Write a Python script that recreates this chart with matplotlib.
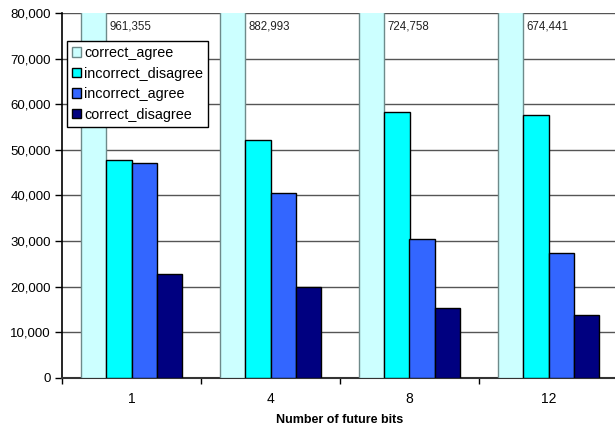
import matplotlib
matplotlib.use("Agg")
import matplotlib.pyplot as plt
import numpy as np

plt.rcParams['font.family'] = ['Liberation Sans', 'DejaVu Sans']

categories = ["1", "4", "8", "12"]
series_names = ["correct_agree", "incorrect_disagree", "incorrect_agree", "correct_disagree"]
correct_agree = [961355, 882993, 724758, 674441]
incorrect_disagree = [47700, 52200, 58200, 57600]
incorrect_agree = [47100, 40500, 30500, 27300]
correct_disagree = [22800, 20000, 15400, 13800]
y_ticks = [0, 10000, 20000, 30000, 40000, 50000, 60000, 70000, 80000]

colors = ["#CCFFFF", "#00FFFF", "#3366FF", "#000080"]
edges = ["#6E8A8A", "#000000", "#000000", "#000000"]

fig = plt.figure(figsize=(6.15, 4.25), dpi=100)
ax = fig.add_axes([62 / 615, 47 / 425, 556 / 615, 365 / 425])

x = np.arange(len(categories))
width = 0.18
all_series = [correct_agree, incorrect_disagree, incorrect_agree, correct_disagree]
for i, (name, vals) in enumerate(zip(series_names, all_series)):
    offs = (i - 1.5) * width
    ax.bar(x + offs, vals, width, color=colors[i], edgecolor=edges[i],
           linewidth=1.0, label=name, zorder=3)

ymax = 80000
ax.set_ylim(0, ymax)
ax.set_xlim(-0.5, len(categories) - 0.5)

# values of the clipped tall bars, written beside them
for xi, v in zip(x, correct_agree):
    ax.text(xi - width + 0.02, 77000, f"{v:,}", fontsize=8.3, ha="left", va="center",
            color="#222222", zorder=4)

ax.set_yticks(y_ticks)
ax.set_yticklabels([f"{t:,}" for t in y_ticks], fontsize=9.5)
ax.yaxis.grid(True, color="#555555", linewidth=1.0, zorder=0)
ax.tick_params(axis="y", length=5, width=1, direction="out", pad=3)

ax.set_xticks(x)
ax.set_xticklabels(categories, fontsize=10)
ax.tick_params(axis="x", length=0, pad=10)
ax.set_xticks(np.arange(len(categories) + 1) - 0.5, minor=True)
ax.tick_params(axis="x", which="minor", length=4, width=1, direction="out")

ax.set_xlabel("Number of future bits", fontsize=9, fontweight="bold", labelpad=6)

for s in ["top", "right"]:
    ax.spines[s].set_visible(False)
ax.spines["left"].set_linewidth(1.2)
ax.spines["bottom"].set_linewidth(1.5)
ax.spines["bottom"].set_color("#333333")

leg = ax.legend(loc="upper left", bbox_to_anchor=(67 / 615, 1 - 41 / 425),
                bbox_transform=fig.transFigure, fontsize=10.4, frameon=True,
                fancybox=False, edgecolor="black", framealpha=1,
                handlelength=0.65, handleheight=0.65, handletextpad=0.2,
                labelspacing=0.45, borderpad=0.35, borderaxespad=0)
leg.get_frame().set_linewidth(1.0)
leg.set_zorder(5)

fig.savefig("out.png", dpi=100)
